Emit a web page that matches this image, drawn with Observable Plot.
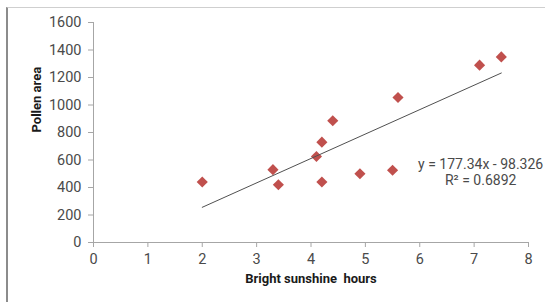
<!DOCTYPE html>
<html>
<head>
<meta charset="utf-8">
<script src="https://cdn.jsdelivr.net/npm/d3@7"></script>
<script src="https://cdn.jsdelivr.net/npm/@observablehq/plot@0.6"></script>
<style>
  html, body { margin: 0; padding: 0; background: #fff; }
  #wrap { position: relative; width: 545px; height: 302px; overflow: hidden; }
  #frame { position: absolute; left: 6px; top: 7px; width: 600px; height: 400px;
           border-left: 2px solid #8c8c8c; border-top: 1px solid #cfcfcf; }
  #chart { position: absolute; left: 0; top: 0; }
  svg text { white-space: pre; }
</style>
</head>
<body>
<div id="wrap"><div id="frame"></div><div id="chart"></div></div>
<script>
// Data
const sunshineHours = [2.0, 3.3, 3.4, 4.1, 4.2, 4.2, 4.4, 4.9, 5.5, 5.6, 7.1, 7.5];
const pollenArea    = [440, 530, 420, 625, 730, 440, 885, 500, 525, 1055, 1290, 1350];
const xTicks = [0, 1, 2, 3, 4, 5, 6, 7, 8];
const yTicks = [0, 200, 400, 600, 800, 1000, 1200, 1400, 1600];
const xTitle = "Bright sunshine  hours";
const yTitle = "Pollen area";
const eqLines = ["y = 177.34x - 98.326", "R\u00B2 = 0.6892"];
const eqX = [7.12, 7.12];
const eqY = [567, 449];

const points = sunshineHours.map((x, i) => ({x, y: pollenArea[i]}));
const eq = eqLines.map((t, i) => ({t, x: eqX[i], y: eqY[i]}));

const chart = Plot.plot({
  width: 545,
  height: 302,
  marginLeft: 93,
  marginRight: 17,
  marginTop: 22,
  marginBottom: 60,
  x: {domain: [0, 8]},
  y: {domain: [0, 1600]},
  style: {fontFamily: "Roboto", fontSize: "13.5px", color: "#4a4a4a", background: "transparent", overflow: "visible"},
  marks: [
    Plot.ruleX([0], {stroke: "#a6a6a6"}),
    Plot.ruleY([0], {stroke: "#a6a6a6"}),
    Plot.axisY(yTicks, {tickSize: 5, tickPadding: 7, stroke: "#a6a6a6", fontSize: 14.5, label: null, tickFormat: d => String(d)}),
    Plot.axisX(xTicks, {tickSize: 5, tickPadding: 6, stroke: "#a6a6a6", fontSize: 14.5, label: null, tickFormat: d => String(d)}),
    Plot.dot(points, {x: "x", y: "y", symbol: "diamond2", r: 5, fill: "#c0504d", stroke: "none"}),
    Plot.linearRegressionY(points, {x: "x", y: "y", stroke: "#505050", strokeWidth: 1, ci: 0}),
    Plot.text(eq, {x: "x", y: "y", text: "t", fill: "#4a4a4a", fontSize: 14, textAnchor: "middle"}),
    Plot.text([xTitle], {frameAnchor: "bottom", dy: 40, fontWeight: "bold", fontSize: 13, fill: "#1a1a1a"}),
    Plot.text([yTitle], {frameAnchor: "left", dx: -57, rotate: -90, fontWeight: "bold", fontSize: 13, fill: "#1a1a1a"})
  ]
});
document.getElementById("chart").appendChild(chart);
</script>
</body>
</html>
